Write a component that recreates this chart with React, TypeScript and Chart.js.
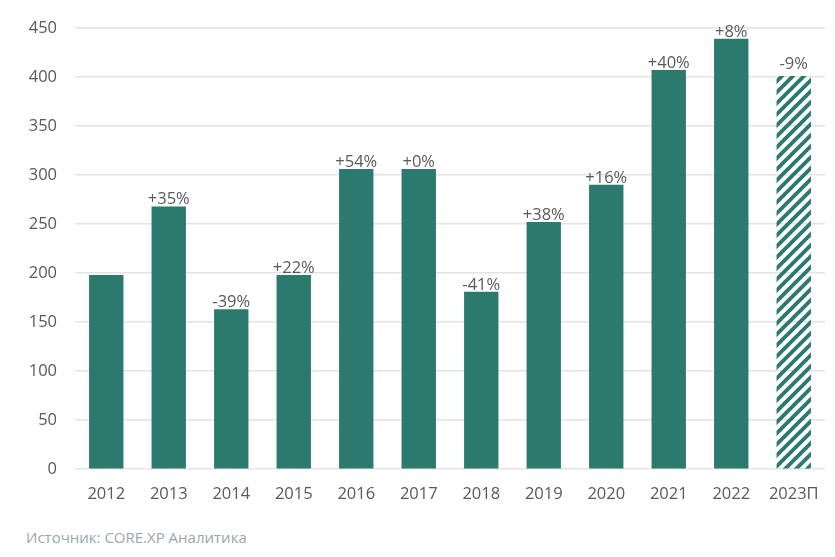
import Chart from "chart.js/auto";
import { useEffect, useRef } from "react";

const years = ["2012", "2013", "2014", "2015", "2016", "2017", "2018", "2019", "2020", "2021", "2022", "2023П"];
const volumes = [198, 268, 163, 198, 306, 306, 181, 252, 290, 407, 439, 401];
const changes = ["", "+35%", "-39%", "+22%", "+54%", "+0%", "-41%", "+38%", "+16%", "+40%", "+8%", "-9%"];
const forecastIndex = [11];

const TEAL = "#2b7a6d";
const FONT = "'Open Sans', sans-serif";

// diagonal "/" stripes for the forecast bar
function hatch(color: string) {
  const s = 11;
  const c = document.createElement("canvas");
  c.width = s;
  c.height = s;
  const g = c.getContext("2d")!;
  g.strokeStyle = color;
  g.lineWidth = 3.8;
  g.beginPath();
  g.moveTo(-1, s + 1);
  g.lineTo(s + 1, -1);
  g.moveTo(-3, 3);
  g.lineTo(3, -3);
  g.moveTo(s - 3, s + 3);
  g.lineTo(s + 3, s - 3);
  g.stroke();
  return g.createPattern(c, "repeat")!;
}

export default function App() {
  const ref = useRef<HTMLCanvasElement>(null);

  useEffect(() => {
    if (!ref.current) return;
    const pattern = hatch(TEAL);
    const colors = years.map((_, i) => (forecastIndex.includes(i) ? pattern : TEAL));

    const labelPlugin = {
      id: "changeLabels",
      afterDatasetsDraw(chart: Chart) {
        const ctx = chart.ctx;
        const meta = chart.getDatasetMeta(0);
        ctx.save();
        ctx.font = `16.5px ${FONT}`;
        ctx.fillStyle = "#595959";
        ctx.textAlign = "center";
        ctx.textBaseline = "alphabetic";
        meta.data.forEach((bar: any, i: number) => {
          if (!changes[i]) return;
          const gap = forecastIndex.includes(i) ? 7 : 2;
          ctx.fillText(changes[i], bar.x, bar.y - gap);
        });
        ctx.restore();
      },
    };

    const chart = new Chart(ref.current, {
      type: "bar",
      data: {
        labels: years,
        datasets: [
          {
            data: volumes,
            backgroundColor: colors as any,
            borderWidth: 0,
            barPercentage: 0.55,
            categoryPercentage: 1,
          },
        ],
      },
      options: {
        animation: false,
        responsive: true,
        maintainAspectRatio: false,
        layout: { padding: { top: 20, right: 10, left: 0, bottom: 0 } },
        plugins: {
          legend: { display: false },
          tooltip: { enabled: false },
        },
        scales: {
          x: {
            grid: { display: false },
            border: { display: false },
            ticks: { color: "#595959", font: { family: FONT, size: 16.5 }, padding: 7 },
          },
          y: {
            min: 0,
            max: 450,
            ticks: { stepSize: 50, color: "#595959", font: { family: FONT, size: 16.5 }, padding: 18 },
            grid: { color: "#e3e3e3", lineWidth: 1.5, drawTicks: false },
            border: { display: false },
            afterFit: (axis: any) => {
              axis.width = 75;
            },
          },
        },
      },
      plugins: [labelPlugin],
    });

    return () => {
      chart.destroy();
    };
  }, []);

  return (
    <div style={{ position: "fixed", left: 0, top: 0, width: 835, height: 557, background: "#fff" }}>
      <div style={{ position: "relative", width: 835, height: 511 }}>
        <canvas ref={ref}></canvas>
      </div>
      <div
        style={{
          position: "absolute",
          left: 26,
          top: 527,
          fontFamily: FONT,
          fontSize: 15,
          color: "#9aa6ae",
        }}
      >
        Источник: CORE.XP Аналитика
      </div>
    </div>
  );
}
